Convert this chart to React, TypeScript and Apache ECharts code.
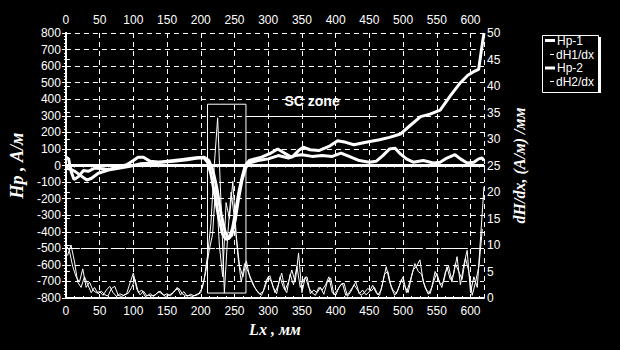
import React, { useEffect, useRef } from "react";
import * as echarts from "echarts";

// Hp curves (x in mm, value in A/m)
const hp1X = [0,4,8,12,18,26,33,43,55,63,75,90,100,107,115,125,140,160,180,195,205,210,215,220,226,232,237,242,247,252,257,262,266,272,280,290,304,314,324,335,345,352,362,375,390,403,415,427,445,465,480,496,510,526,540,555,570,585,596,604,612,617,620];
const hp1Y = [52,40,-40,-85,-70,-30,-35,-15,-20,-25,-10,5,30,50,50,25,20,25,35,45,45,20,-50,-160,-300,-410,-445,-440,-380,-270,-150,-60,0,30,40,50,75,100,75,50,90,110,95,90,115,150,140,125,140,155,170,190,240,295,310,335,420,500,545,565,580,720,800];

const hp2X = [0,8,14,24,31,38,48,63,80,95,110,130,150,170,190,205,212,218,224,230,236,241,246,251,256,261,266,271,285,300,315,330,340,350,365,380,395,408,420,435,450,460,470,480,488,496,505,515,530,545,555,565,577,585,595,605,612,617,620];
const hp2Y = [-15,-25,-37,-67,-88,-77,-47,-27,-15,-5,10,15,25,35,45,50,30,-30,-140,-290,-400,-440,-420,-330,-200,-90,-20,15,30,40,60,45,60,65,55,60,55,75,55,30,20,25,60,100,105,70,40,20,30,15,20,45,65,40,15,20,40,45,30];

// dH/dx curves, sampled every 5 mm (dH1 from 0 mm, dH2 from 2.5 mm)
const dh1Step = 5;
const dh1Start = 0;
const dh1 = [
  10,9,6,4,3,5.5,2,3,1.5,1,
  1.2,0.5,1.5,2.2,1,0.3,0.8,0.5,0.8,2.8,
  4.7,1.7,0.6,1.3,0.4,0.8,0.3,0.9,1.3,0.5,
  0.8,0.4,1.1,2,0.6,1.2,0.3,0.7,0.4,0.6,
  1,3.5,8,14,25,34,18,1,12,20,
  15,8,3,6.5,5,3.5,2,1,0.5,2,
  4,3,1,2.5,4.7,1.5,3,5.3,3,8.5,
  1,4,2,1,0.5,2,1.5,2.5,4,1,
  0.5,2,2.8,0.5,1,2,3,0.8,1.5,0.6,
  1.2,2.4,1,0.5,3,5.9,3,1.5,0.8,2.5,
  4,1,3,5.3,6,7.2,3,1.5,0.8,3,
  4.7,2.5,3,5.9,3.5,4.5,7.8,2.5,6.2,9,
  1,4,2,11.6,21
];
const dh2Step = 5;
const dh2Start = 2.5;
const dh2 = [
  8,10,7,3,2,4,2.5,1,2,0.8,
  1.3,0.6,0.4,1.8,2.2,0.5,0.3,0.6,0.9,2,
  3.5,1,1.5,0.3,0.5,0.4,0.6,1.2,0.8,0.3,
  0.5,0.9,1.5,1.8,0.8,0.4,0.5,0.3,0.6,0.9,
  2,5,9,12,22,10,4,18,15,22,
  12,6,4,7,4,2.5,1.5,0.8,1.2,3.5,
  4.2,2,0.8,4,2,1,4.5,2.5,6,2,
  3.5,4,0.8,1.5,1,2,0.7,3,3.8,0.6,
  1.5,2.5,2.8,0.3,1.2,2.5,1.5,0.5,1,1.8,
  1.3,2,0.6,1.5,4.5,5,2,0.5,1.5,3.5,
  2.2,1,4,6.5,5,4.5,2,0.7,2,5,
  3.5,2,4.8,6,3,6.5,5,3.5,7.5,5,
  0.5,3,6,13
];

const seriesNames = ["Hp-1", "dH1/dx", "Hp-2", "dH2/dx"];
const xTickMax = 600;

// SC zone annotation (data coordinates)
const zoneX = [210, 267];
const zoneY = [370, -770];
const zoneLine = { x1: 267, x2: 455, y: 300 };
const zoneLabel = { x: 365, y: 390, text: "SC zone" };
const refLines = { zero: 0, threshold: -500 };

const W = "#ffffff";
const sans = "Liberation Sans, Arial, sans-serif";
const serif = "Liberation Serif, Times New Roman, serif";

export default function App() {
  const ref = useRef<HTMLDivElement>(null);
  useEffect(() => {
    if (!ref.current) return;
    const chart = echarts.init(ref.current, null, { renderer: "svg" });
    const pair = (xs: number[], ys: number[]) => xs.map((x, i) => [x, ys[i]]);
    const stepped = (start: number, step: number, ys: number[]) => ys.map((v, i) => [start + i * step, v]);

    const xAxisCommon = {
      type: "value",
      min: 0,
      max: 620,
      interval: 50,
      axisLine: { show: true, lineStyle: { color: W, width: 2 } },
      axisTick: { show: true, length: 4, lineStyle: { color: W } },
      minorTick: { show: true, splitNumber: 4, length: 2, lineStyle: { color: W } },
      axisLabel: {
        color: W,
        fontSize: 12,
        fontFamily: sans,
        margin: 7,
        formatter: (v: number) => (v > xTickMax ? "" : String(v)),
      },
    };

    const nameStyle = (size: number) => ({
      color: W,
      fontSize: size,
      fontWeight: "bold",
      fontStyle: "italic",
      fontFamily: serif,
    });

    const legendRowTops = [34, 48, 61.5, 75];
    const legends = seriesNames.map((n, i) => {
      const thick = i % 2 === 0;
      return {
        data: [n],
        orient: "vertical",
        left: thick ? 545 : 550,
        top: legendRowTops[i],
        padding: 0,
        itemGap: 0,
        icon: "rect",
        itemWidth: thick ? 10 : 4,
        itemHeight: thick ? 3 : 1,
        selectedMode: false,
        z: 10,
        textStyle: {
          color: W,
          fontSize: 12,
          lineHeight: 13,
          fontFamily: sans,
          padding: [0, 0, 0, -3],
        },
      };
    });

    const option: any = {
      animation: false,
      backgroundColor: "#000",
      grid: { left: 64, right: 136, top: 33, bottom: 52, containLabel: false },
      xAxis: [
        {
          ...xAxisCommon,
          position: "bottom",
          name: "Lx , мм",
          nameLocation: "middle",
          nameGap: 23,
          nameTextStyle: nameStyle(16),
          splitLine: { show: true, lineStyle: { color: W, type: [5, 4], width: 1 } },
        },
        {
          ...xAxisCommon,
          position: "top",
          splitLine: { show: false },
        },
      ],
      yAxis: [
        {
          type: "value",
          position: "left",
          min: -800,
          max: 800,
          interval: 100,
          name: "Hp , А/м",
          nameLocation: "middle",
          nameGap: 26,
          nameRotate: 90,
          nameTextStyle: nameStyle(18),
          axisLine: { show: true, lineStyle: { color: W, width: 2 } },
          axisTick: { show: true, length: 4, lineStyle: { color: W } },
          minorTick: { show: true, splitNumber: 5, length: 2, lineStyle: { color: W } },
          axisLabel: { color: W, fontSize: 12, fontFamily: sans, margin: 5 },
          splitLine: { show: true, lineStyle: { color: W, type: [5, 4], width: 1 } },
        },
        {
          type: "value",
          position: "right",
          min: 0,
          max: 50,
          interval: 5,
          name: "dH/dx, (А/м) /мм",
          nameLocation: "middle",
          nameGap: 19,
          nameRotate: 90,
          nameTextStyle: nameStyle(16),
          axisLine: { show: true, lineStyle: { color: W, width: 2 } },
          axisTick: { show: true, length: 4, lineStyle: { color: W } },
          axisLabel: { color: W, fontSize: 12, fontFamily: sans, margin: 3 },
          splitLine: { show: false },
        },
      ],
      legend: legends,
      graphic: [
        {
          type: "rect",
          z: 1,
          shape: { x: 542.5, y: 35.5, width: 56, height: 57 },
          style: { fill: "#000", stroke: W, lineWidth: 1 },
        },
        { type: "rect", z: 1, shape: { x: 598, y: 37, width: 3, height: 56 }, style: { fill: W } },
      ],
      series: [
        {
          name: "Hp-1",
          type: "line",
          xAxisIndex: 0,
          yAxisIndex: 0,
          data: pair(hp1X, hp1Y),
          showSymbol: false,
          symbol: "none",
          lineStyle: { color: W, width: 3 },
          itemStyle: { color: W },
          z: 5,
          markLine: {
            silent: true,
            symbol: "none",
            label: { show: false },
            data: [
              { yAxis: refLines.zero, lineStyle: { color: W, width: 3, type: "solid" } },
              { yAxis: refLines.threshold, lineStyle: { color: W, width: 1, type: [12, 3] } },
              [
                { coord: [zoneLine.x1, zoneLine.y], lineStyle: { color: W, width: 1, type: "solid" } },
                { coord: [zoneLine.x2, zoneLine.y] },
              ],
            ],
          },
          markArea: {
            silent: true,
            itemStyle: { color: "rgba(0,0,0,0)", borderColor: W, borderWidth: 1 },
            label: { show: false },
            data: [[{ coord: [zoneX[0], zoneY[0]] }, { coord: [zoneX[1], zoneY[1]] }]],
          },
          markPoint: {
            silent: true,
            symbol: "circle",
            symbolSize: 0,
            label: {
              show: true,
              position: "inside",
              formatter: zoneLabel.text,
              color: W,
              fontSize: 14,
              fontWeight: "bold",
              fontFamily: sans,
            },
            data: [{ coord: [zoneLabel.x, zoneLabel.y] }],
          },
        },
        {
          name: "dH1/dx",
          type: "line",
          xAxisIndex: 0,
          yAxisIndex: 1,
          data: stepped(dh1Start, dh1Step, dh1),
          showSymbol: false,
          symbol: "none",
          lineStyle: { color: W, width: 1 },
          itemStyle: { color: W },
          z: 3,
        },
        {
          name: "Hp-2",
          type: "line",
          xAxisIndex: 0,
          yAxisIndex: 0,
          data: pair(hp2X, hp2Y),
          showSymbol: false,
          symbol: "none",
          lineStyle: { color: W, width: 3 },
          itemStyle: { color: W },
          z: 5,
        },
        {
          name: "dH2/dx",
          type: "line",
          xAxisIndex: 0,
          yAxisIndex: 1,
          data: stepped(dh2Start, dh2Step, dh2),
          showSymbol: false,
          symbol: "none",
          lineStyle: { color: W, width: 1 },
          itemStyle: { color: W },
          z: 3,
        },
      ],
    };
    chart.setOption(option);
    return () => chart.dispose();
  }, []);
  return <div ref={ref} style={{ width: 620, height: 350, position: "absolute", left: 0, top: 0 }} />;
}
